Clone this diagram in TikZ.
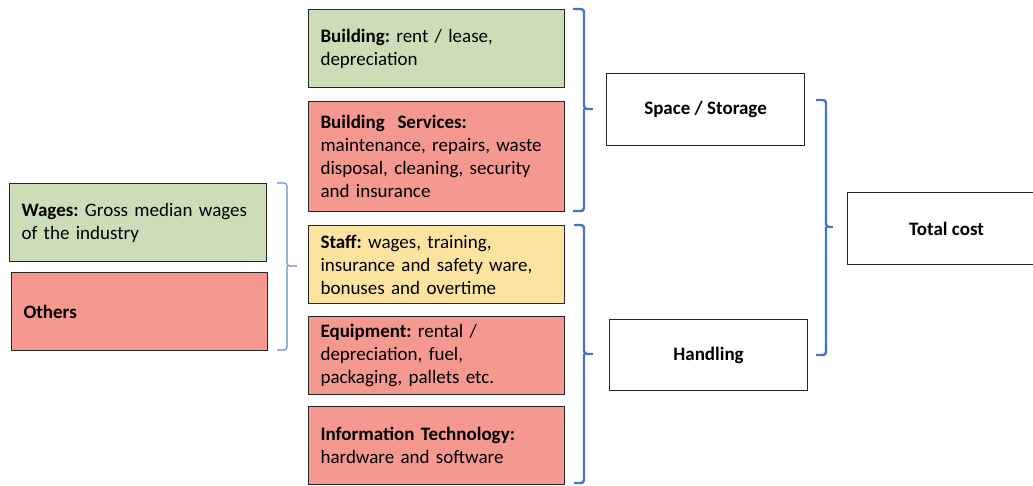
\documentclass[tikz,border=0pt]{standalone}
\usepackage{fontspec}
\setmainfont{Carlito}
\frenchspacing
\usetikzlibrary{calc}
\definecolor{boxgreen}{RGB}{204,222,184}
\definecolor{boxred}{RGB}{244,152,144}
\definecolor{boxyellow}{RGB}{252,228,160}
\definecolor{bracecol}{RGB}{68,114,196}
\begin{document}
\begin{tikzpicture}[x=1pt,y=-1pt,
  every node/.style={font=\fontsize{19}{23}\selectfont},
  costbox/.style={draw=black!85,line width=1.1pt,inner xsep=12pt,inner ysep=0pt,
    align=left,anchor=north west},
  itembox/.style={costbox,text width=#1},
  sumbox/.style={draw=black!85,line width=1.1pt,fill=white,align=center,font=\fontsize{19}{23}\selectfont\bfseries,anchor=north west},
  bigbrace/.style={draw=bracecol,line width=2.4pt,rounded corners=3pt},
  smallbrace/.style={draw=bracecol!85,line width=1.1pt,rounded corners=3pt}]
\useasboundingbox (0,0) rectangle (1033,485);

% cost items, middle column
\node[itembox=232pt,fill=boxgreen,minimum height=78pt] (bld) at (308,9)
  {\textbf{Building:} rent / lease,\\depreciation};
\node[itembox=232pt,fill=boxred,minimum height=110pt] (bsv) at (308,101)
  {\textbf{Building\ \ Services:}\\maintenance, repairs, waste\\disposal, cleaning, security\\and insurance};
\node[itembox=232pt,fill=boxyellow,minimum height=78pt] (stf) at (308,225)
  {\textbf{Staff:} wages, training,\\insurance and safety ware,\\bonuses and overtime};
\node[itembox=232pt,fill=boxred,minimum height=78pt] (eqp) at (308,316)
  {\textbf{Equipment:} rental /\\depreciation, fuel,\\packaging, pallets etc.};
\node[itembox=232pt,fill=boxred,minimum height=78pt] (itc) at (308,406)
  {\textbf{Information Technology:}\\hardware and software};

% staff breakdown, left column
\node[itembox=233pt,fill=boxgreen,minimum height=78pt] (wag) at (9,183)
  {\textbf{Wages:} Gross median wages\\of the industry};
\node[itembox=232pt,fill=boxred,minimum height=78pt] (oth) at (11,272)
  {\textbf{Others}};

% aggregated costs
\node[sumbox,minimum width=198pt,minimum height=72pt] (spc) at (606,73) {Space / Storage};
\node[sumbox,minimum width=198pt,minimum height=71pt] (hdl) at (609,319) {Handling};
\node[sumbox,minimum width=198pt,minimum height=72pt] (tot) at (847,192) {Total cost};

% braces grouping the items
\draw[smallbrace] (277,183) -| (287,266) -- (297,266);
\draw[smallbrace] (277,350) -| (287,266);

\draw[bigbrace] (573,9) -| (584,109) -- (593,109);
\draw[bigbrace] (573,211) -| (584,109);

\draw[bigbrace] (574,225) -| (584,354) -- (593,354);
\draw[bigbrace] (574,483) -| (584,354);

\draw[bigbrace] (816,100) -| (826,227) -- (833,227);
\draw[bigbrace] (816,355) -| (826,227);
\end{tikzpicture}
\end{document}
